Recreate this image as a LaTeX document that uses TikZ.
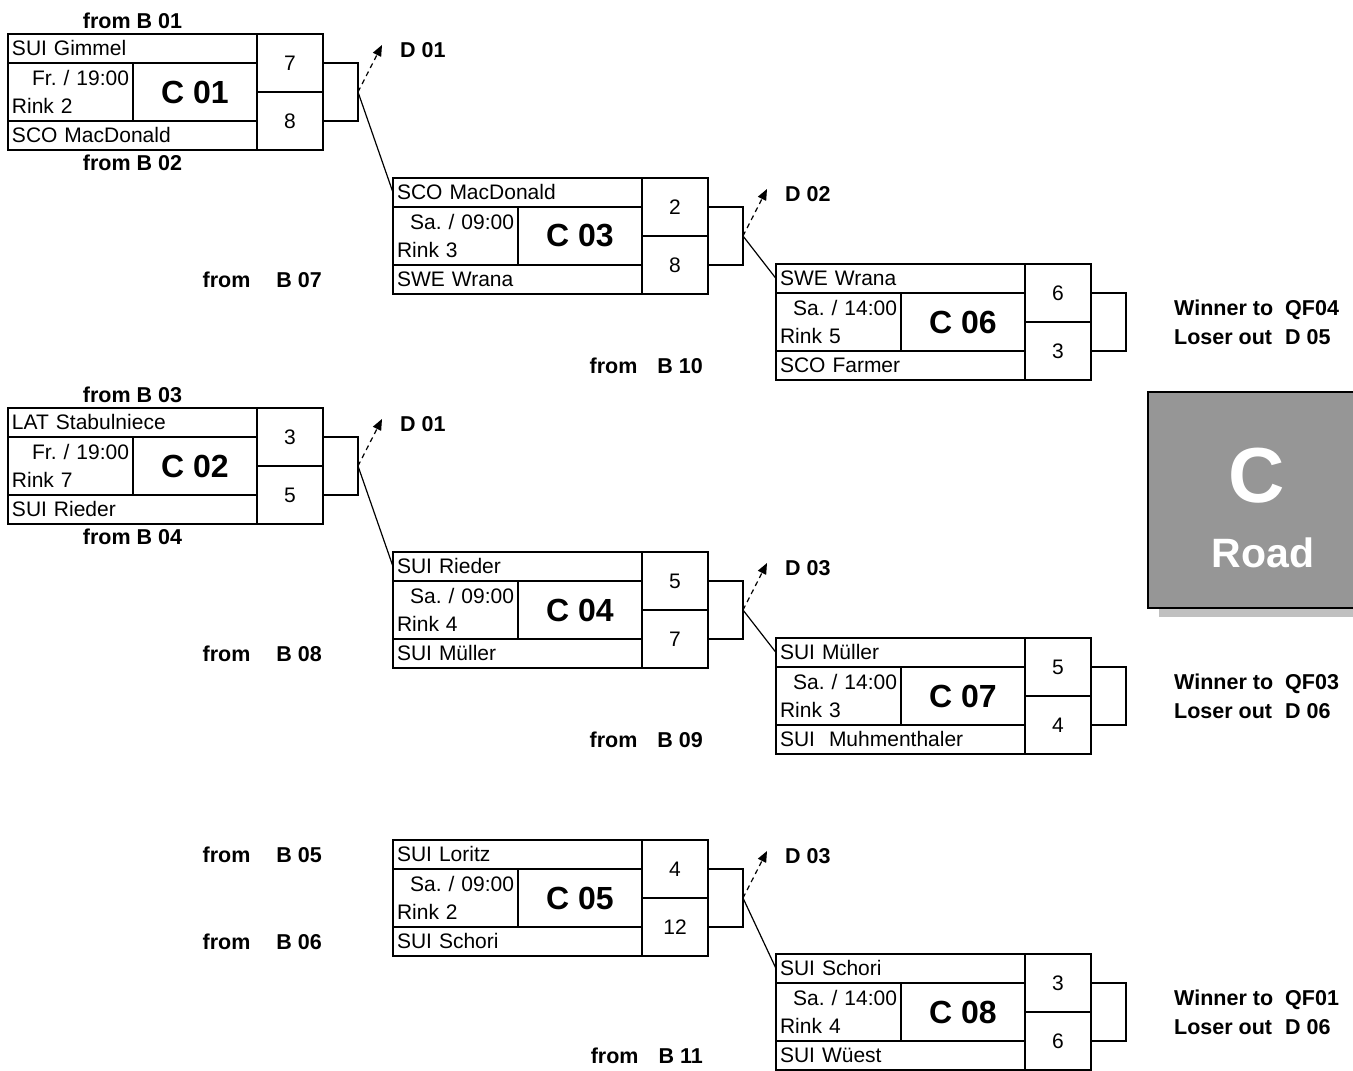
\documentclass[tikz,border=0pt]{standalone}
\usepackage{fontspec}
\setmainfont{Liberation Sans}
\usetikzlibrary{arrows.meta,positioning}
\frenchspacing
\definecolor{roadgray}{RGB}{150,150,150}
\definecolor{shadegray}{RGB}{192,192,192}
\newcommand{\cellfont}{\fontsize{21}{28}\selectfont}
\newcommand{\tagfont}{\fontsize{21.5}{29}\selectfont\bfseries}
\newcommand{\codefont}{\fontsize{32}{36}\selectfont\bfseries}
\newcommand{\CRoadMatch}[9]{%
  \node[team,anchor=north west] (m#1a) at (#2,#3) {#4};
  \node[when,anchor=north west] (m#1w) at (m#1a.south west) {\hspace*{\fill}#6\\Rink #7};
  \node[code,anchor=north west] (m#1c) at (m#1w.north east) {C #1};
  \node[team,anchor=north west] (m#1b) at (m#1w.south west) {#5};
  \node[score,anchor=north west] (m#1s) at (m#1a.north east) {#8};
  \node[score,anchor=north west] (m#1t) at (m#1s.south west) {#9};
  \node[bracket,anchor=west] (m#1k) at (m#1s.south east) {};
}
\newcommand{\CRoadLoser}[2]{%
  \node[tag,anchor=west] (m#1d) at ([xshift=40pt,yshift=42pt]m#1k.east) {#2};
  \coordinate (m#1x) at ([xshift=-16pt,yshift=5pt]m#1d.west);
  \draw[loss] (m#1k.east) -- (m#1x);
}
\newcommand{\CRoadExit}[3]{%
  \node[tag,anchor=west,align=left] (m#1e) at ([xshift=46pt]m#1k.east)
    {\makebox[111pt][l]{Winner to}#2\\\makebox[111pt][l]{Loser out}#3};
}

\begin{document}
\begin{tikzpicture}[x=1pt,y=-1pt,
  cell/.style={draw,line width=1.7pt,outer sep=0pt},
  team/.style={cell,text width=241pt,inner xsep=4pt,inner ysep=0pt,minimum height=29pt,
    align=left,font=\cellfont,text height=16pt,text depth=3pt},
  when/.style={cell,text width=117pt,inner xsep=4pt,inner ysep=0pt,minimum height=58pt,
    align=left,font=\cellfont},
  code/.style={cell,minimum width=124pt,minimum height=58pt,inner sep=0pt,font=\codefont},
  score/.style={cell,minimum width=66pt,minimum height=58pt,inner sep=0pt,font=\cellfont},
  bracket/.style={cell,minimum width=35pt,minimum height=58pt,inner sep=0pt},
  tag/.style={inner sep=2pt,font=\tagfont},
  win/.style={line width=1.2pt},
  loss/.style={line width=1.2pt,dash pattern=on 5pt off 4pt,-{Triangle[length=11pt,width=9pt]}},
  road/.style={fill=roadgray,minimum width=205pt,minimum height=216pt,inner sep=0pt,outer sep=0pt},
  roadtxt/.style={text=white,inner sep=0pt},
]
\useasboundingbox (0,0) rectangle (1353,1071);

\CRoadMatch{01}{8}{34}{SUI Gimmel}{SCO MacDonald}{Fr. / 19:00}{2}{7}{8}
\CRoadMatch{02}{8}{408}{LAT Stabulniece}{SUI Rieder}{Fr. / 19:00}{7}{3}{5}
\CRoadMatch{03}{393}{178}{SCO MacDonald}{SWE Wrana}{Sa. / 09:00}{3}{2}{8}
\CRoadMatch{04}{393}{552}{SUI Rieder}{SUI Müller}{Sa. / 09:00}{4}{5}{7}
\CRoadMatch{05}{393}{840}{SUI Loritz}{SUI Schori}{Sa. / 09:00}{2}{4}{12}
\CRoadMatch{06}{776}{264}{SWE Wrana}{SCO Farmer}{Sa. / 14:00}{5}{6}{3}
\CRoadMatch{07}{776}{638}{SUI Müller}{SUI\ \ Muhmenthaler}{Sa. / 14:00}{3}{5}{4}
\CRoadMatch{08}{776}{954}{SUI Schori}{SUI Wüest}{Sa. / 14:00}{4}{3}{6}

\CRoadLoser{01}{D 01}
\CRoadLoser{02}{D 01}
\CRoadLoser{03}{D 02}
\CRoadLoser{04}{D 03}
\CRoadLoser{05}{D 03}
\foreach \src/\dst in {01/03,02/04,03/06,04/07,05/08}{
  \draw[win] (m\src k.east) -- (m\dst a.west);
}

\CRoadExit{06}{QF04}{D 05}
\CRoadExit{07}{QF03}{D 06}
\CRoadExit{08}{QF01}{D 06}

\node[tag,above=3pt of m01a] (f01) {from B 01};
\node[tag,below=3pt of m01b] (f02) {from B 02};
\node[tag,above=3pt of m02a] (f03) {from B 03};
\node[tag,below=3pt of m02b] (f04) {from B 04};
\node[tag,left=69pt of m03b] (f07) {from\hspace{26pt}B 07};
\node[tag,left=69pt of m04b] (f08) {from\hspace{26pt}B 08};
\node[tag,left=69pt of m05a] (f05) {from\hspace{26pt}B 05};
\node[tag,left=69pt of m05b] (f06) {from\hspace{26pt}B 06};
\node[tag,left=71pt of m06b] (f10) {from\hspace{20pt}B 10};
\node[tag,left=71pt of m07b] (f09) {from\hspace{20pt}B 09};
\node[tag,left=71pt of m08b] (f11) {from\hspace{20pt}B 11};

\fill[shadegray] (1159,600) rectangle (1353,617);
\node[road] (croad) at (1250.5,500) {};
\draw[line width=1.2pt] (croad.north east) -- (croad.north west) -- (croad.south west) -- (croad.south east);
\node[roadtxt,font=\fontsize{78}{80}\selectfont\bfseries] (croadc) at (1257,476) {C};
\node[roadtxt,font=\fontsize{41}{44}\selectfont\bfseries] (croadt) at (1263,553) {Road};
\end{tikzpicture}
\end{document}
